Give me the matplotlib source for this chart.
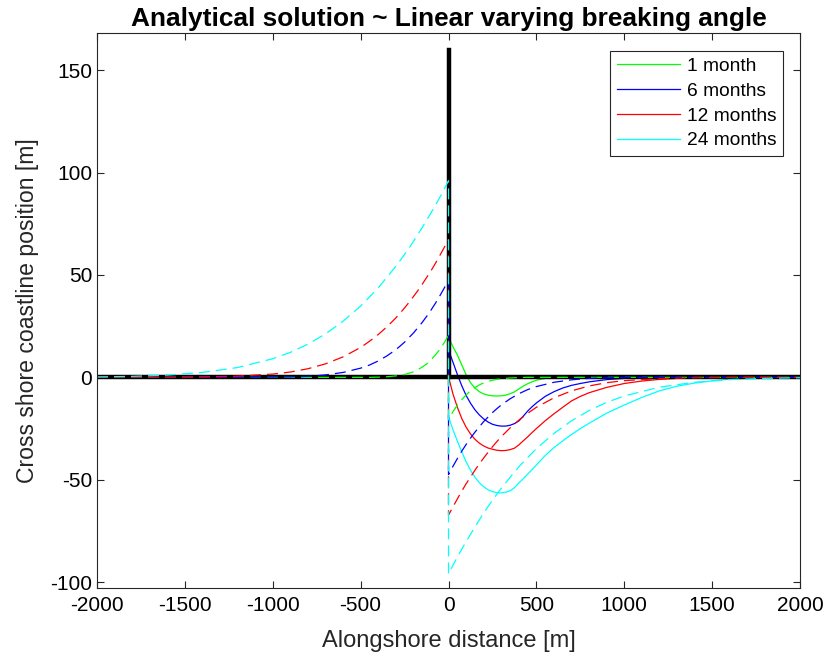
import matplotlib
matplotlib.use("Agg")
import matplotlib.pyplot as plt
import numpy as np

plt.rcParams['font.family'] = ['Liberation Sans', 'DejaVu Sans']
plt.rcParams['axes.unicode_minus'] = False

labels = ['1 month', '6 months', '12 months', '24 months']
colors = ['#00ff00', '#0000ff', '#ff0000', '#00ffff']

# distance from the groyne [m] for the mirrored (dashed) profiles
d_dash = [0, 25, 50, 75, 100, 125, 150, 175, 200, 225, 250, 275, 300, 350,
          400, 450, 500, 600, 700, 800, 900, 1000, 1200, 1400, 1600, 1800, 2000]
dash_1 = [20.5, 16.8, 13.6, 10.9, 8.6, 6.5, 5.0, 3.7, 2.7, 2.0, 1.4, 1.0, 0.7,
          0.3, 0.1, 0, 0, 0, 0, 0, 0, 0, 0, 0, 0, 0, 0]
dash_6 = [47.5, 43.5, 39.7, 36.1, 32.8, 29.7, 26.8, 24.2, 21.6, 19.4, 17.2,
          15.3, 13.5, 10.5, 8.0, 6.0, 4.5, 2.4, 1.2, 0.5, 0.2, 0.1, 0, 0, 0,
          0, 0]
dash_12 = [67.3, 63.3, 59.4, 55.6, 52.0, 48.7, 45.4, 42.3, 39.4, 36.6, 33.9,
           31.4, 29.0, 24.7, 20.9, 17.6, 14.6, 10.0, 6.6, 4.2, 2.6, 1.6, 0.6,
           0.2, 0.1, 0, 0]
dash_24 = [96.0, 91.8, 87.8, 84.0, 80.2, 76.7, 73.1, 69.7, 66.3, 63.1, 60.0,
           57.1, 54.2, 48.9, 43.7, 39.2, 34.8, 27.4, 21.2, 16.2, 12.2, 9.1,
           4.8, 2.4, 1.1, 0.5, 0.2]

# solid curves, downdrift side only
x_solid = [0, 25, 50, 75, 100, 125, 150, 175, 200, 225, 250, 275, 300, 325,
           350, 375, 400, 425, 450, 475, 500, 550, 600, 650, 700, 750, 800,
           900, 1000, 1100, 1200, 1300, 1400, 1500, 1600, 1700, 1800, 2000]
solid_1 = [19.5, 15.0, 11.0, 6.2, 1.3, -2.6, -5.2, -7.0, -8.1, -8.7, -9.0,
           -9.1, -9.0, -8.7, -8.0, -7.1, -5.7, -4.3, -3.1, -2.2, -1.4, -0.5,
           -0.1, 0, 0, 0, 0, 0, 0, 0, 0, 0, 0, 0, 0, 0, 0, 0]
solid_6 = [13.5, 7.5, 1.5, -4.0, -8.8, -12.6, -15.8, -18.3, -20.3, -21.8,
           -22.9, -23.5, -23.8, -23.8, -23.4, -22.6, -21.3, -19.0, -16.5,
           -14.4, -12.5, -9.3, -7.0, -5.2, -3.9, -3.0, -2.2, -1.1, -0.5, -0.2,
           0, 0, 0, 0, 0, 0, 0, 0]
solid_12 = [0.3, -8.0, -14.5, -20.0, -24.3, -27.6, -30.2, -32.1, -33.5, -34.5,
            -35.1, -35.6, -35.8, -35.7, -35.3, -34.6, -33.0, -31.0, -29.1,
            -27.0, -25.0, -21.2, -17.8, -14.6, -11.5, -9.3, -7.5, -4.9, -3.0,
            -1.8, -1.0, -0.5, -0.3, -0.1, 0, 0, 0, 0]
solid_24 = [-19.2, -25.5, -31.0, -36.3, -41.2, -45.3, -48.7, -51.4, -53.4,
            -54.9, -55.8, -56.3, -56.4, -56.1, -55.4, -53.9, -51.6, -49.5,
            -47.3, -45.1, -42.8, -38.2, -34.3, -31.0, -27.9, -25.0, -22.4,
            -17.5, -13.5, -9.8, -6.6, -4.3, -2.8, -1.7, -0.9, -0.5, -0.2, 0]

dash_all = [dash_1, dash_6, dash_12, dash_24]
solid_all = [solid_1, solid_6, solid_12, solid_24]

fig = plt.figure(figsize=(8.24, 6.61), dpi=100)
ax = fig.add_axes([0.1177, 0.1100, 0.8532, 0.8396])

for s, c, lab in zip(solid_all, colors, labels):
    ax.plot(x_solid, s, color=c, lw=0.9, label=lab)

# groyne and initial coastline
ax.plot([-2000, 2000], [0, 0], color='k', lw=3.2)
ax.plot([0, 0], [0, 160], color='k', lw=3.2)

d = np.array(d_dash)
for f, c in zip(dash_all, colors):
    f = np.array(f)
    xs = np.concatenate([-d[::-1], d])
    ys = np.concatenate([f[::-1], -f])
    ax.plot(xs, ys, color=c, lw=0.9, dashes=(8.8, 4.8))

ax.set_xlim(-2000, 2000)
ax.set_ylim(-103, 168)
ax.set_xticks(np.arange(-2000, 2001, 500))
ax.set_yticks([-100, -50, 0, 50, 100, 150])
ax.tick_params(direction='in', length=5, width=0.8, top=True, right=True,
               labelsize=15, colors='#262626', labelcolor='black')
ax.tick_params(axis='x', pad=5.5)
for sp in ax.spines.values():
    sp.set_color('#262626')
    sp.set_linewidth(0.8)

ax.set_title('Analytical solution ~ Linear varying breaking angle',
             fontsize=18.9, fontweight='bold', pad=5)
ax.set_xlabel('Alongshore distance [m]', fontsize=17, color='#262626',
              labelpad=11)
ax.set_ylabel('Cross shore coastline position [m]', fontsize=16.6,
              color='#262626', labelpad=8)

leg = ax.legend(loc='upper right', bbox_to_anchor=(0.9758, 0.968),
                fontsize=13.8, frameon=True, fancybox=False, framealpha=1,
                edgecolor='#262626', handlelength=3.3, labelspacing=0.38,
                borderpad=0.35, handletextpad=0.35, borderaxespad=0)
leg.get_frame().set_linewidth(0.8)

fig.savefig('out.png', dpi=100)
